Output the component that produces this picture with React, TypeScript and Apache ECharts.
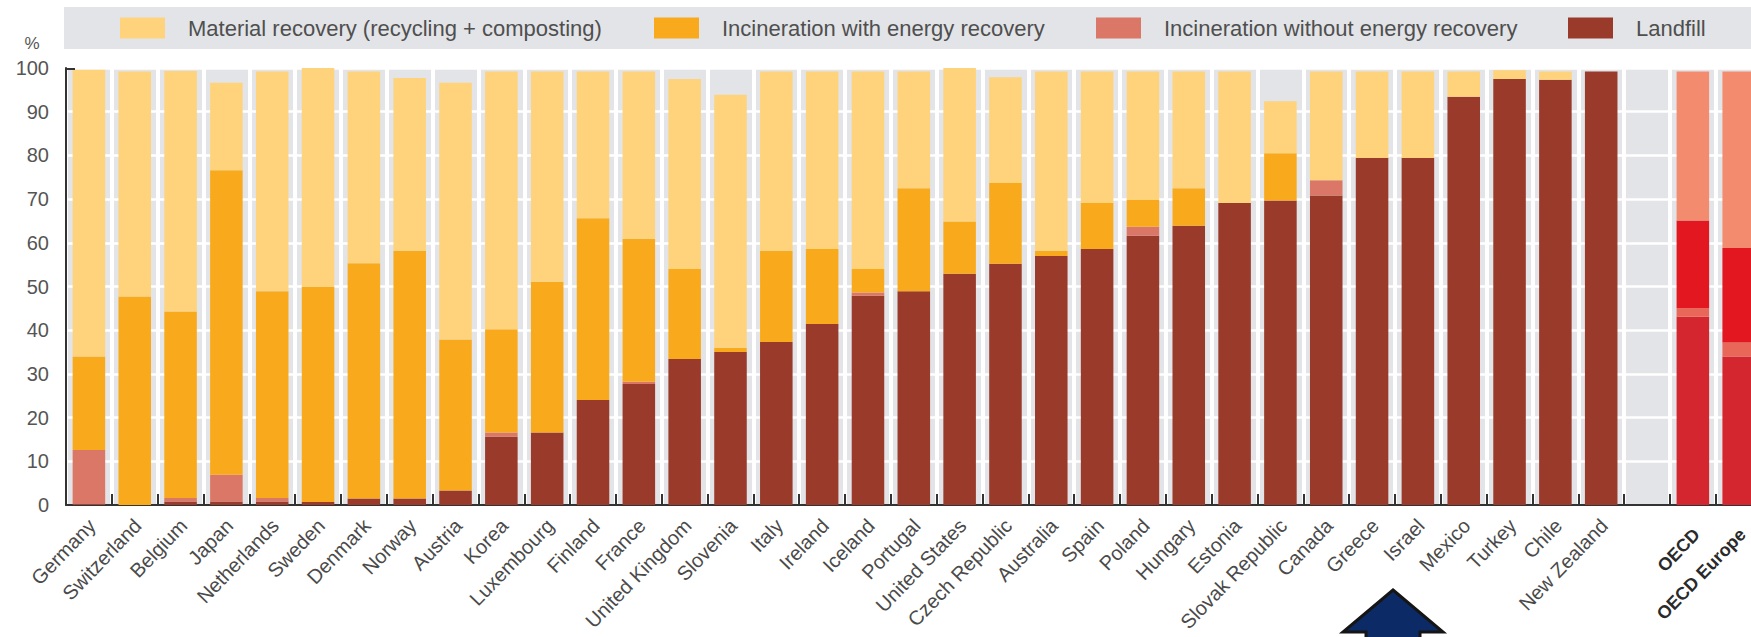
import React, { useEffect, useRef } from "react";
import * as echarts from "echarts";

const categories = [
  "Germany", "Switzerland", "Belgium", "Japan", "Netherlands", "Sweden", "Denmark", "Norway",
  "Austria", "Korea", "Luxembourg", "Finland", "France", "United Kingdom", "Slovenia", "Italy",
  "Ireland", "Iceland", "Portugal", "United States", "Czech Republic", "Australia", "Spain",
  "Poland", "Hungary", "Estonia", "Slovak Republic", "Canada", "Greece", "Israel", "Mexico",
  "Turkey", "Chile", "New Zealand", "", "OECD", "OECD Europe",
];

const landfill = [
  0.2, 0, 0.8, 0.8, 0.8, 0.7, 1.5, 1.5, 3.3, 15.6, 16.6, 24, 27.7, 33.4, 35, 37.3, 41.4, 47.9,
  48.9, 52.9, 55.2, 57, 58.6, 61.6, 63.9, 69.1, 69.7, 70.8, 79.4, 79.4, 93.4, 97.5, 97.3, 99.2,
  null, 43.1, 34,
];
const incinerationNoEnergy = [
  12.4, 0, 0.8, 6.1, 0.8, 0, 0, 0, 0, 1.0, 0, 0, 0.5, 0, 0, 0, 0, 0.7, 0, 0, 0, 0, 0, 2.1, 0, 0,
  0, 3.5, 0, 0, 0, 0, 0, 0, null, 1.9, 3.2,
];
const incinerationEnergy = [
  21.4, 47.7, 42.7, 69.7, 47.3, 49.3, 53.8, 56.7, 34.6, 23.6, 34.5, 41.6, 32.7, 20.6, 1.0, 20.9,
  17.2, 5.4, 23.6, 12.0, 18.5, 1.2, 10.5, 6.1, 8.6, 0, 10.8, 0, 0, 0, 0, 0, 0, 0, null, 20.1, 21.6,
];
const materialRecovery = [
  65.6, 51.5, 55.0, 20.0, 50.3, 50.0, 43.9, 39.5, 58.7, 59.0, 48.1, 33.6, 38.3, 43.5, 57.9, 41.0,
  40.6, 45.2, 26.7, 35.1, 24.2, 41.0, 30.1, 29.4, 26.7, 30.1, 11.9, 24.9, 19.8, 19.8, 5.8, 2.0,
  1.9, 0, null, 34.1, 40.4,
];
const yTicks = [0, 10, 20, 30, 40, 50, 60, 70, 80, 90, 100];
const aggregateCategories = ["OECD", "OECD Europe"];

const seriesNames = [
  "Landfill",
  "Incineration without energy recovery",
  "Incineration with energy recovery",
  "Material recovery (recycling + composting)",
];
const seriesValues = [landfill, incinerationNoEnergy, incinerationEnergy, materialRecovery];
const countryColors = ["#993a2b", "#da7766", "#f9aa1c", "#fed37b"];
const aggregateColors = ["#d4262e", "#e96759", "#e2171f", "#f38c6e"];

const legendOrder = [3, 2, 1, 0];
const legendLefts = [120, 654, 1096, 1568];

const axisFont = "'Liberation Sans', Arial, sans-serif";

export default function App() {
  const ref = useRef<HTMLDivElement>(null);

  useEffect(() => {
    if (!ref.current) return;
    const chart = echarts.init(ref.current, null, { renderer: "svg" });

    const series = seriesNames.map((name, si) => ({
      name,
      type: "bar",
      stack: "total",
      barCategoryGap: "29%",
      itemStyle: { color: countryColors[si] },
      emphasis: { disabled: true },
      data: seriesValues[si].map((v, ci) =>
        aggregateCategories.includes(categories[ci])
          ? { value: v, itemStyle: { color: aggregateColors[si] } }
          : v
      ),
    }));

    const legends = legendOrder.map((si, li) => ({
      data: [{ name: seriesNames[si], icon: "rect" }],
      left: legendLefts[li],
      top: 17,
      padding: 0,
      itemWidth: 45,
      itemHeight: 21,
      selectedMode: false,
      textStyle: {
        color: "#4f4f4f",
        fontSize: 22,
        fontFamily: axisFont,
        padding: [0, 0, 0, 18],
        lineHeight: 21,
      },
    }));

    chart.setOption({
      animation: false,
      backgroundColor: "#fff",
      grid: {
        left: 66,
        right: -10.6,
        top: 68,
        bottom: 132,
        show: true,
        backgroundColor: "#e2e4e7",
        borderWidth: 0,
        containLabel: false,
        outerBoundsMode: "none",
      },
      legend: legends,
      graphic: [
        {
          type: "rect",
          z: -1,
          shape: { x: 64, y: 7, width: 1700, height: 42 },
          style: { fill: "#e2e4e7" },
          silent: true,
        },
        {
          type: "line",
          z: 10,
          shape: { x1: 65, y1: 69, x2: 75, y2: 69 },
          style: { stroke: "#333", lineWidth: 2 },
        },
        {
          type: "text",
          x: 32,
          y: 43,
          style: {
            text: "%",
            fontSize: 17,
            fontFamily: axisFont,
            fill: "#555",
            align: "center",
            verticalAlign: "middle",
          },
        },
        {
          type: "polygon",
          shape: {
            points: [
              [1393, 590],
              [1443, 632],
              [1420, 632],
              [1420, 650],
              [1366, 650],
              [1366, 632],
              [1343, 632],
            ],
          },
          style: { fill: "#0c2b66", stroke: "#151515", lineWidth: 3 },
        },
      ],
      xAxis: {
        type: "category",
        data: categories,
        axisLine: { show: true, lineStyle: { color: "#333", width: 2 } },
        axisTick: { show: true, inside: true, length: 11, interval: 0, lineStyle: { color: "#333", width: 2 } },
        splitLine: { show: true, interval: 0, lineStyle: { color: "#ffffff", width: 4 } },
        axisLabel: {
          interval: 0,
          rotate: 46,
          fontSize: 20,
          color: "#4a4a4a",
          fontFamily: axisFont,
          margin: 6,
          verticalAlign: "top",
          padding: [0, 6, 0, 0],
          formatter: (v: string) => (aggregateCategories.includes(v) ? `{agg|${v}}` : v),
          rich: {
            agg: {
              fontWeight: "bold",
              color: "#2a2a2a",
              fontSize: 18,
              fontFamily: axisFont,
              padding: [8, 6, 0, 0],
            },
          },
        },
      },
      yAxis: {
        type: "value",
        min: 0,
        max: 100,
        interval: 10,
        axisLine: { show: true, lineStyle: { color: "#333", width: 2 } },
        axisTick: { show: false },
        splitLine: { show: true, lineStyle: { color: "#ffffff", width: 2.5 } },
        axisLabel: {
          fontSize: 20,
          color: "#555",
          fontFamily: axisFont,
          margin: 17,
          formatter: (v: number) => (yTicks.includes(v) ? String(v) : ""),
        },
      },
      series,
    });

    return () => chart.dispose();
  }, []);

  return (
    <div
      ref={ref}
      style={{ position: "absolute", left: 0, top: 0, width: 1751, height: 637 }}
    />
  );
}
